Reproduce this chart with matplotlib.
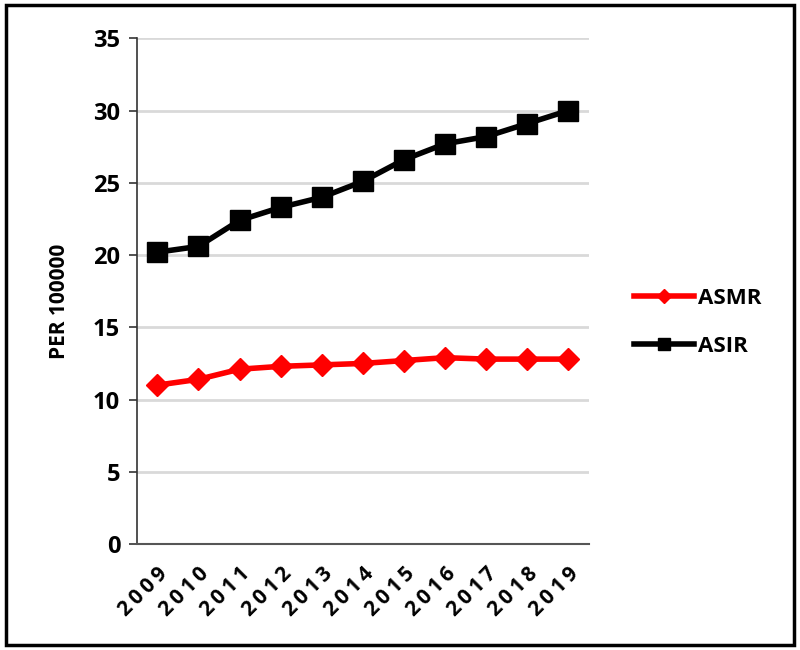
import matplotlib
matplotlib.use("Agg")
import matplotlib.pyplot as plt
from matplotlib.patches import Rectangle

plt.rcParams['font.family'] = ['Open Sans', 'DejaVu Sans']

# dados
anos = ['2009', '2010', '2011', '2012', '2013', '2014', '2015', '2016', '2017', '2018', '2019']
asmr = [11.0, 11.4, 12.1, 12.3, 12.4, 12.5, 12.7, 12.9, 12.8, 12.8, 12.8]
asir = [20.2, 20.6, 22.4, 23.3, 24.0, 25.1, 26.6, 27.7, 28.2, 29.1, 30.0]

fig = plt.figure(figsize=(8, 6.5), dpi=100)
ax = fig.add_axes([0.171, 0.163, 0.565, 0.778])

x = range(len(anos))
ax.plot(x, asmr, color='#ff0000', lw=4, marker='D', ms=11, label='ASMR')
ax.plot(x, asir, color='black', lw=4, marker='s', ms=15, label='ASIR')

ax.set_xlim(-0.5, len(anos) - 0.5)
ax.set_ylim(0, 35)
ax.set_yticks(range(0, 36, 5))
ax.set_xticks(list(x))
# espaco fino entre os digitos, como no original
rotulos = ['\u2009'.join(a) for a in anos]
ax.set_xticklabels(rotulos, rotation=45, ha='right', rotation_mode='anchor',
                   fontsize=15, fontweight='bold')
for t in ax.get_yticklabels():
    t.set_fontsize(17)
    t.set_fontweight('bold')
ax.tick_params(axis='x', length=0, pad=14)
ax.tick_params(axis='y', length=6, width=1.2, pad=6, color='#333333')

ax.grid(axis='y', color='#d9d9d9', lw=2)
ax.set_axisbelow(True)
ax.spines['top'].set_visible(False)
ax.spines['right'].set_visible(False)
ax.spines['left'].set_color('#333333')
ax.spines['left'].set_linewidth(1.2)
ax.spines['bottom'].set_color('#555555')
ax.spines['bottom'].set_linewidth(1.5)

ax.set_ylabel('PER 100000', fontsize=15, fontweight='bold')
ax.yaxis.set_label_coords(-0.148, 0.48)

ax.legend(loc='center left', bbox_to_anchor=(1.055, 0.438), frameon=False,
          prop={'size': 16, 'weight': 'bold'}, labelspacing=1.2,
          handlelength=2.7, handletextpad=0.2, markerscale=0.62)

# moldura
fig.patches.append(Rectangle((0.007, 0.008), 0.986, 0.984, transform=fig.transFigure,
                             fill=False, edgecolor='black', lw=2.5))

fig.savefig('out.png', dpi=100)
